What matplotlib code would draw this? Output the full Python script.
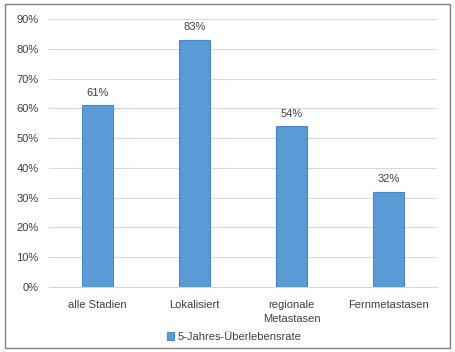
import matplotlib
matplotlib.use("Agg")
import matplotlib.pyplot as plt
from matplotlib.patches import Rectangle

categories = ["alle Stadien", "Lokalisiert", "regionale\nMetastasen", "Fernmetastasen"]
values = [0.61, 0.83, 0.54, 0.32]
series_name = "5-Jahres-Überlebensrate"
yticks = [0, 0.1, 0.2, 0.3, 0.4, 0.5, 0.6, 0.7, 0.8, 0.9]

plt.rcParams['font.family'] = ['Liberation Sans', 'DejaVu Sans']
fig = plt.figure(figsize=(4.56, 3.52), dpi=100)
ax = fig.add_axes([49/456, 1-287/352, 388/456, 268/352])

x = range(len(categories))
bars = ax.bar(x, values, width=0.31, color="#5B9BD5", edgecolor="#4A89C8", linewidth=0.8,
              label=series_name, zorder=3)
for xi, v in zip(x, values):
    ax.annotate(f"{round(v*100)}%", (xi, v), xytext=(0, 5.5), textcoords="offset points",
                ha="center", va="bottom", fontsize=8, color="#404040")

ax.set_xlim(-0.5, len(categories)-0.5)
ax.set_ylim(0, 0.9)
ax.set_yticks(yticks)
ax.set_yticklabels([f"{int(round(t*100))}%" for t in yticks], fontsize=8, color="#404040")
ax.set_xticks(list(x))
ax.set_xticklabels(categories, fontsize=8, color="#404040", linespacing=1.5)
ax.tick_params(length=0)
ax.tick_params(axis='y', pad=7.5)
ax.tick_params(axis='x', pad=9)
ax.grid(axis='y', color="#D9D9D9", linewidth=0.8, zorder=0)
for s in ["top", "right", "left"]:
    ax.spines[s].set_visible(False)
ax.spines["bottom"].set_color("#D9D9D9")
ax.spines["bottom"].set_linewidth(0.8)

fig.legend(loc="center", bbox_to_anchor=(234/456, 1-337/352), frameon=False, fontsize=8,
           handlelength=0.7, handleheight=0.7, handletextpad=0.3, labelcolor="#404040")

fig.patches.append(Rectangle((5/456, 4/352), 445/456, 344/352, transform=fig.transFigure,
                             fill=False, edgecolor="#808080", linewidth=1.0))
fig.savefig("out.png", dpi=100)
